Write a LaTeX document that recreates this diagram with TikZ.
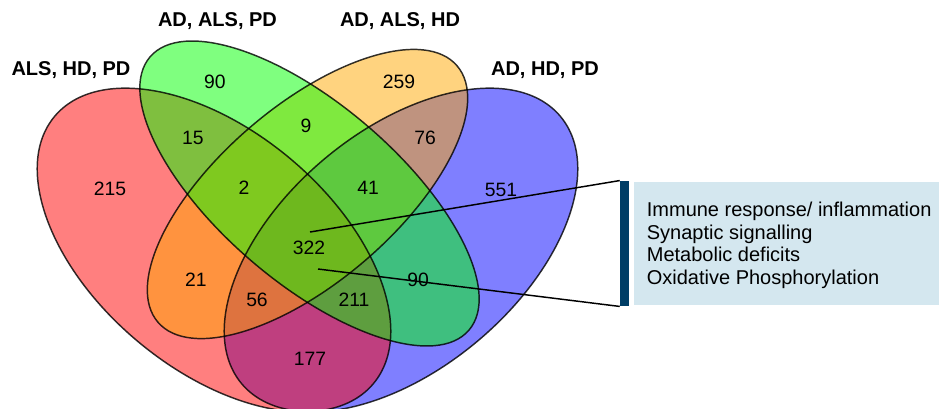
\documentclass[tikz,border=0pt]{standalone}
\usepackage{fontspec}
\setmainfont{Liberation Sans}
\usetikzlibrary{positioning}

\definecolor{setred}{RGB}{255,0,0}
\definecolor{setgreen}{RGB}{0,255,0}
\definecolor{setorange}{RGB}{255,168,0}
\definecolor{setblue}{RGB}{0,0,255}
\definecolor{barnavy}{RGB}{0,62,102}
\definecolor{panelblue}{RGB}{212,231,239}

\begin{document}
\begin{tikzpicture}[x=0.75pt,y=-0.75pt,
  setfill/.style={fill opacity=.5},
  setline/.style={draw=black,draw opacity=.8,line width=1.1pt},
  num/.style={font=\fontsize{14.5}{16}\selectfont},
  lbl/.style={font=\bfseries\fontsize{15}{17}\selectfont}]
\useasboundingbox (0,0) rectangle (939,408);
% the four sets
\fill[setblue,setfill,rotate around={40:(401,250)}] (401,250) ellipse [x radius=208, y radius=119];
\fill[setred,setfill,rotate around={-40:(214,250)}] (214,250) ellipse [x radius=208, y radius=119];
\fill[setorange,setfill,rotate around={40.6:(307.5,194)}] (307.5,194) ellipse [x radius=197, y radius=88];
\fill[setgreen,setfill,rotate around={-40.6:(309.5,193.5)}] (309.5,193.5) ellipse [x radius=210, y radius=89];
\draw[setline,rotate around={40:(401,250)}] (401,250) ellipse [x radius=208, y radius=119];
\draw[setline,rotate around={-40:(214,250)}] (214,250) ellipse [x radius=208, y radius=119];
\draw[setline,rotate around={40.6:(307.5,194)}] (307.5,194) ellipse [x radius=197, y radius=88];
\draw[setline,rotate around={-40.6:(309.5,193.5)}] (309.5,193.5) ellipse [x radius=210, y radius=89];
% set names
\node[lbl] (lg) at (217.5,21) {AD, ALS, PD};
\node[lbl] (lo) at (400,21) {AD, ALS, HD};
\node[lbl] (lr) at (71,70) {ALS, HD, PD};
\node[lbl] (lb) at (545,70) {AD, HD, PD};
% counts
\node[num] (g) at (215,82) {90};
\node[num] (o) at (399,82) {259};
\node[num] (rg) at (193,138) {15};
\node[num] (go) at (306,126) {9};
\node[num] (ob) at (425,138) {76};
\node[num] (r) at (110,189) {215};
\node[num] (rgo) at (244,188) {2};
\node[num] (gob) at (368,188) {41};
\node[num] (b) at (501,190) {551};
\node[num] (rgob) at (309,248) {322};
\node[num] (ro) at (196,280) {21};
\node[num] (gb) at (418,280) {90};
\node[num] (rob) at (257,300) {56};
\node[num] (rgb) at (354,300) {211};
\node[num] (rb) at (310,359) {177};
% enriched terms
\node[fill=barnavy,minimum width=6.75pt,minimum height=94pt,inner sep=0pt] (bar) at (624.5,243.5) {};
\node[fill=panelblue,minimum width=229.5pt,minimum height=92pt,inner sep=0pt,right=3pt of bar] (panel) {};
\node[right=13pt of bar,yshift=-1.5pt,align=left,inner sep=0pt,font=\fontsize{15}{16.9}\selectfont] (terms)
  {Immune response/ inflammation\\Synaptic signalling\\Metabolic deficits\\Oxidative Phosphorylation};
\coordinate (p1) at (310,232);
\coordinate (p2) at (318,269);
\draw[line width=1.1pt] (p1) -- (bar.north west);
\draw[line width=1.1pt] (p2) -- (bar.south west);
\end{tikzpicture}
\end{document}
